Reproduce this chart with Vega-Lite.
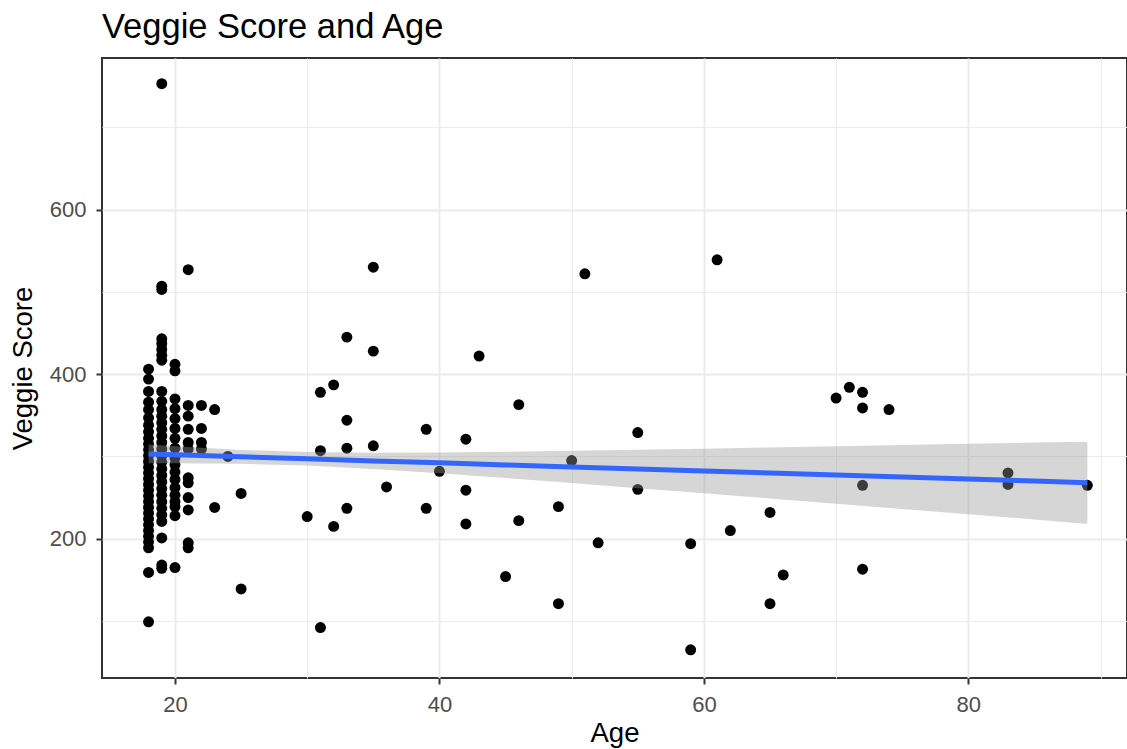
{
  "$schema": "https://vega.github.io/schema/vega-lite/v6.json",
  "width": 1025,
  "height": 620,
  "autosize": {"type": "none"},
  "padding": {"left": 102, "top": 58, "right": 0, "bottom": 71},
  "background": "white",
  "title": {"text": "Veggie Score and Age", "anchor": "start", "frame": "group", "fontSize": 34.5, "font": "Liberation Sans", "fontWeight": "normal", "color": "black", "offset": 13},
  "datasets": {
    "pts": [
      {"Age": 18, "Score": 406}, {"Age": 18, "Score": 394}, {"Age": 18, "Score": 379}, {"Age": 18, "Score": 366}, {"Age": 18, "Score": 357}, {"Age": 18, "Score": 347}, {"Age": 18, "Score": 338}, {"Age": 18, "Score": 330}, {"Age": 18, "Score": 322}, {"Age": 18, "Score": 315}, {"Age": 18, "Score": 308}, {"Age": 18, "Score": 301}, {"Age": 18, "Score": 294}, {"Age": 18, "Score": 287}, {"Age": 18, "Score": 280}, {"Age": 18, "Score": 273}, {"Age": 18, "Score": 266}, {"Age": 18, "Score": 259}, {"Age": 18, "Score": 252}, {"Age": 18, "Score": 245}, {"Age": 18, "Score": 238}, {"Age": 18, "Score": 231}, {"Age": 18, "Score": 224}, {"Age": 18, "Score": 217}, {"Age": 18, "Score": 210}, {"Age": 18, "Score": 203}, {"Age": 18, "Score": 196}, {"Age": 18, "Score": 189}, {"Age": 18, "Score": 159}, {"Age": 18, "Score": 99},
      {"Age": 19, "Score": 753}, {"Age": 19, "Score": 507}, {"Age": 19, "Score": 503}, {"Age": 19, "Score": 443}, {"Age": 19, "Score": 437}, {"Age": 19, "Score": 430}, {"Age": 19, "Score": 423}, {"Age": 19, "Score": 417}, {"Age": 19, "Score": 379}, {"Age": 19, "Score": 367}, {"Age": 19, "Score": 357}, {"Age": 19, "Score": 349}, {"Age": 19, "Score": 341}, {"Age": 19, "Score": 333}, {"Age": 19, "Score": 325}, {"Age": 19, "Score": 317}, {"Age": 19, "Score": 309}, {"Age": 19, "Score": 301}, {"Age": 19, "Score": 293}, {"Age": 19, "Score": 285}, {"Age": 19, "Score": 277}, {"Age": 19, "Score": 269}, {"Age": 19, "Score": 261}, {"Age": 19, "Score": 253}, {"Age": 19, "Score": 245}, {"Age": 19, "Score": 237}, {"Age": 19, "Score": 229}, {"Age": 19, "Score": 221}, {"Age": 19, "Score": 201}, {"Age": 19, "Score": 168}, {"Age": 19, "Score": 164},
      {"Age": 20, "Score": 412}, {"Age": 20, "Score": 404}, {"Age": 20, "Score": 370}, {"Age": 20, "Score": 358}, {"Age": 20, "Score": 346}, {"Age": 20, "Score": 334}, {"Age": 20, "Score": 322}, {"Age": 20, "Score": 310}, {"Age": 20, "Score": 298}, {"Age": 20, "Score": 290}, {"Age": 20, "Score": 281}, {"Age": 20, "Score": 272}, {"Age": 20, "Score": 262}, {"Age": 20, "Score": 253}, {"Age": 20, "Score": 245}, {"Age": 20, "Score": 239}, {"Age": 20, "Score": 228}, {"Age": 20, "Score": 165},
      {"Age": 21, "Score": 527}, {"Age": 21, "Score": 362}, {"Age": 21, "Score": 349}, {"Age": 21, "Score": 333}, {"Age": 21, "Score": 317}, {"Age": 21, "Score": 309}, {"Age": 21, "Score": 274}, {"Age": 21, "Score": 268}, {"Age": 21, "Score": 250}, {"Age": 21, "Score": 235}, {"Age": 21, "Score": 195}, {"Age": 21, "Score": 189},
      {"Age": 22, "Score": 362}, {"Age": 22, "Score": 334}, {"Age": 22, "Score": 317}, {"Age": 22, "Score": 309},
      {"Age": 23, "Score": 357}, {"Age": 23, "Score": 238},
      {"Age": 24, "Score": 300},
      {"Age": 25, "Score": 255}, {"Age": 25, "Score": 139},
      {"Age": 30, "Score": 227},
      {"Age": 31, "Score": 92}, {"Age": 31, "Score": 378}, {"Age": 31, "Score": 307},
      {"Age": 32, "Score": 387}, {"Age": 32, "Score": 215},
      {"Age": 33, "Score": 445}, {"Age": 33, "Score": 344}, {"Age": 33, "Score": 310}, {"Age": 33, "Score": 237},
      {"Age": 35, "Score": 530}, {"Age": 35, "Score": 428}, {"Age": 35, "Score": 313},
      {"Age": 36, "Score": 263},
      {"Age": 39, "Score": 333}, {"Age": 39, "Score": 237},
      {"Age": 40, "Score": 282},
      {"Age": 42, "Score": 321}, {"Age": 42, "Score": 259}, {"Age": 42, "Score": 218},
      {"Age": 43, "Score": 422},
      {"Age": 45, "Score": 154},
      {"Age": 46, "Score": 363}, {"Age": 46, "Score": 222},
      {"Age": 49, "Score": 121}, {"Age": 49, "Score": 239},
      {"Age": 50, "Score": 295},
      {"Age": 51, "Score": 522},
      {"Age": 52, "Score": 195},
      {"Age": 55, "Score": 329}, {"Age": 55, "Score": 260},
      {"Age": 59, "Score": 194}, {"Age": 59, "Score": 65},
      {"Age": 61, "Score": 539},
      {"Age": 62, "Score": 210},
      {"Age": 65, "Score": 232}, {"Age": 65, "Score": 121},
      {"Age": 66, "Score": 156},
      {"Age": 70, "Score": 371},
      {"Age": 71, "Score": 384},
      {"Age": 72, "Score": 378}, {"Age": 72, "Score": 359}, {"Age": 72, "Score": 265}, {"Age": 72, "Score": 163},
      {"Age": 74, "Score": 357},
      {"Age": 83, "Score": 280}, {"Age": 83, "Score": 266},
      {"Age": 89, "Score": 265}
    ],
    "fit": [
      {"Age": 18, "Score": 303.0, "lo": 291.6, "hi": 314.4},
      {"Age": 20, "Score": 302.0, "lo": 291.7, "hi": 312.3},
      {"Age": 25, "Score": 299.5, "lo": 291.1, "hi": 307.9},
      {"Age": 30, "Score": 297.1, "lo": 288.9, "hi": 305.3},
      {"Age": 35, "Score": 294.6, "lo": 284.8, "hi": 304.4},
      {"Age": 40, "Score": 292.2, "lo": 279.6, "hi": 304.8},
      {"Age": 45, "Score": 289.7, "lo": 273.8, "hi": 305.6},
      {"Age": 50, "Score": 287.3, "lo": 267.8, "hi": 306.8},
      {"Age": 55, "Score": 284.8, "lo": 261.5, "hi": 308.1},
      {"Age": 60, "Score": 282.4, "lo": 255.3, "hi": 309.5},
      {"Age": 65, "Score": 279.9, "lo": 248.9, "hi": 310.9},
      {"Age": 70, "Score": 277.4, "lo": 242.5, "hi": 312.3},
      {"Age": 75, "Score": 275.0, "lo": 236.1, "hi": 313.9},
      {"Age": 80, "Score": 272.5, "lo": 229.7, "hi": 315.3},
      {"Age": 85, "Score": 270.1, "lo": 223.3, "hi": 316.9},
      {"Age": 89, "Score": 268.0, "lo": 218.0, "hi": 318.0}
    ]
  },
  "layer": [
    {
      "data": {"name": "pts"},
      "mark": {"type": "circle", "size": 120, "color": "black", "opacity": 1},
      "encoding": {
        "x": {"field": "Age", "type": "quantitative", "title": "Age",
          "scale": {"domain": [14.48, 92.0], "nice": false, "zero": false},
          "axis": {"values": [20, 30, 40, 50, 60, 70, 80, 90],
            "labelExpr": "datum.value % 20 === 0 ? datum.label : ''",
            "gridWidth": {"condition": {"test": "datum.value % 20 === 0", "value": 2}, "value": 1.1},
            "tickOpacity": {"condition": {"test": "datum.value % 20 === 0", "value": 1}, "value": 0}}},
        "y": {"field": "Score", "type": "quantitative", "title": "Veggie Score",
          "scale": {"domain": [30.75, 784.25], "nice": false, "zero": false},
          "axis": {"values": [100, 200, 300, 400, 500, 600, 700],
            "labelExpr": "datum.value % 200 === 0 ? datum.label : ''",
            "gridWidth": {"condition": {"test": "datum.value % 200 === 0", "value": 2}, "value": 1.1},
            "tickOpacity": {"condition": {"test": "datum.value % 200 === 0", "value": 1}, "value": 0}}}
      }
    },
    {
      "data": {"name": "fit"},
      "mark": {"type": "area", "color": "#999999", "opacity": 0.4},
      "encoding": {
        "x": {"field": "Age", "type": "quantitative", "title": "Age"},
        "y": {"field": "lo", "type": "quantitative", "title": "Veggie Score"},
        "y2": {"field": "hi"}
      }
    },
    {
      "data": {"name": "fit"},
      "mark": {"type": "line", "color": "#3366FF", "strokeWidth": 5},
      "encoding": {
        "x": {"field": "Age", "type": "quantitative", "title": "Age"},
        "y": {"field": "Score", "type": "quantitative", "title": "Veggie Score"}
      }
    }
  ],
  "config": {
    "view": {"stroke": "#333333", "strokeWidth": 2},
    "axis": {
      "domain": false,
      "grid": true,
      "gridColor": "#EBEBEB",
      "tickSize": 6,
      "tickWidth": 2,
      "tickColor": "#333333",
      "labelColor": "#4D4D4D",
      "labelFontSize": 22,
      "labelFont": "Liberation Sans",
      "titleFont": "Liberation Sans",
      "titleFontSize": 27.5,
      "titleFontWeight": "normal",
      "titleColor": "black"
    },
    "axisX": {"labelPadding": 10, "titlePadding": 4},
    "axisY": {"labelPadding": 10, "titlePadding": 12}
  }
}
